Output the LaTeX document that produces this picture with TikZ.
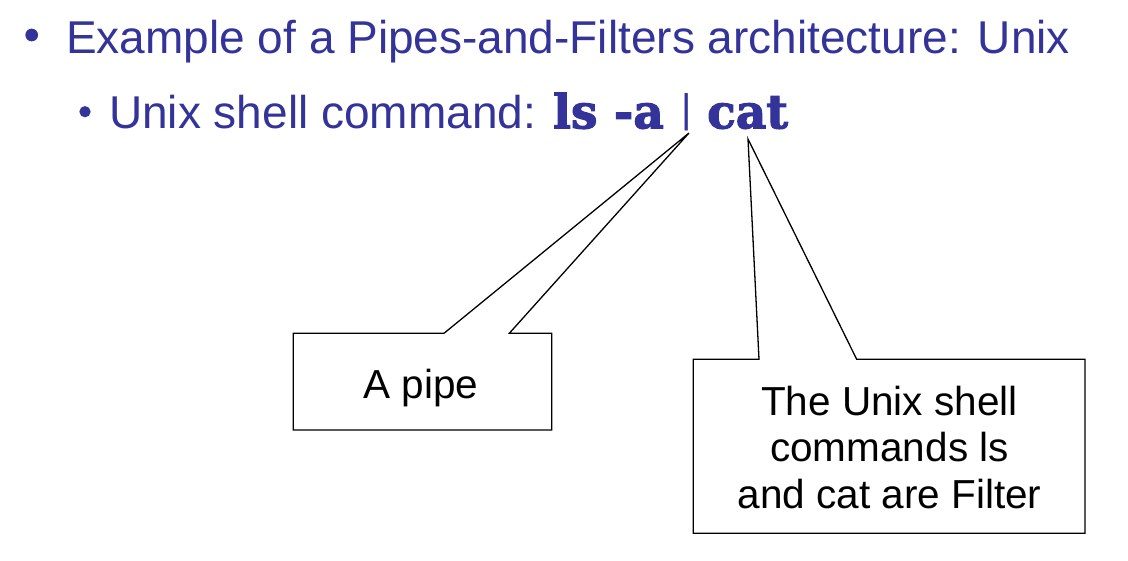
\documentclass[tikz,border=0pt]{standalone}
\usepackage{fontspec}
\setmainfont{Liberation Sans}
\newfontfamily\cmdfont{DejaVu Serif}[FakeBold=2.5]
\definecolor{slideblue}{RGB}{51,51,153}
\begin{document}
\begin{tikzpicture}[x=1pt,y=-1pt,
  titletext/.style={anchor=base west, inner sep=0pt, text=slideblue, font=\fontsize{46}{52}\selectfont},
  cmdtext/.style={anchor=base west, inner sep=0pt, text=slideblue, font=\fontsize{47}{52}\selectfont\cmdfont\bfseries},
  bartext/.style={anchor=base west, inner sep=0pt, text=slideblue, font=\fontsize{40}{46}\selectfont},
  bulletdot/.style={circle, fill=slideblue, inner sep=0pt},
  callout/.style={draw=black, line width=1.3pt, fill=white, line join=miter},
  calltext/.style={align=center, inner sep=0pt, text=black, font=\fontsize{40.5}{46.5}\selectfont}]
\useasboundingbox (0,0) rectangle (1128,560);
% title lines
\node[bulletdot, minimum size=12.7pt] (b1) at (31.7,35) {};
\node[titletext] (t1) at (66,53.3) {Example of a Pipes-and-Filters architecture: Unix};
\node[bulletdot, minimum size=11.3pt] (b2) at (85,111.7) {};
\node[titletext] (t2) at (109,128.3) {Unix shell command:};
\node[cmdtext] (ls) at (553,128.3) {ls -a};
\node[bartext] (bar) at (681.5,122) {|};
\node[cmdtext] (cat) at (707,128.3) {cat};
% callout pointers
\coordinate (tipA) at (689,133);
\coordinate (tipB) at (748,139);
% callout 1
\draw[callout] (293.3,333.3) -- (444,333.3) -- (tipA) -- (509.3,333.3) -- (551.7,333.3)
  -- (551.7,430) -- (293.3,430) -- cycle;
\node[calltext, anchor=base] (pipe) at (421,398.3) {A pipe};
% callout 2
\draw[callout] (693.3,359.3) -- (759,359.3) -- (tipB) -- (856.7,359.3) -- (1085,359.3)
  -- (1085,533.3) -- (693.3,533.3) -- cycle;
\node[calltext, anchor=north] (filter) at (889.5,385.5) {The Unix shell\\commands ls\\and cat are Filter};
\end{tikzpicture}
\end{document}
